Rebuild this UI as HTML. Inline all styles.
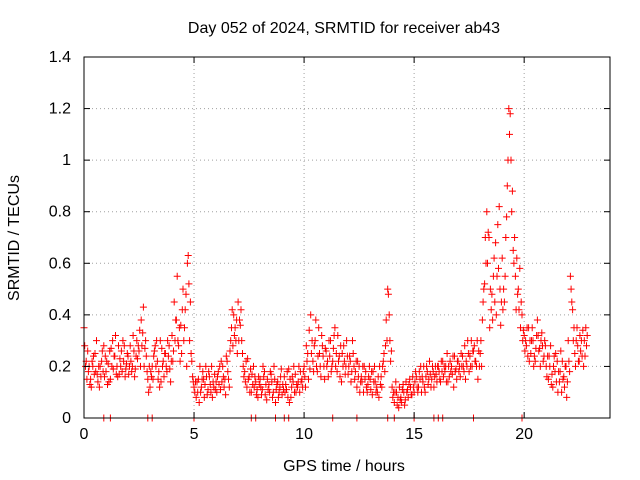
<!DOCTYPE html>
<html><head><meta charset="utf-8"><style>
body{margin:0;background:#fff}
svg{display:block;font-family:"Liberation Sans",sans-serif;font-size:16px}
</style></head><body>
<svg id="chart" width="640" height="480">
<rect width="640" height="480" fill="#fff"/>
<g id="grid"></g>
<g id="marks"></g>
<rect x="84" y="57" width="526" height="361" fill="none" stroke="#000"/>
<g id="axes"></g>
<text x="344" y="33" text-anchor="middle">Day 052 of 2024, SRMTID for receiver ab43</text>
<text x="344" y="471" text-anchor="middle">GPS time / hours</text>
<text x="19" y="238" text-anchor="middle" transform="rotate(-90 19 238)">SRMTID / TECUs</text>
</svg>
<script>
const xTicks=[0,5,10,15,20];
const yTicks=[0,0.2,0.4,0.6,0.8,1,1.2,1.4];
const yTickLabels=["0","0.2","0.4","0.6","0.8","1","1.2","1.4"];
const seriesA=[0.35,0.22,0.18,0.15,0.2,0.25,0.17,0.12,0.22,0.28,0.18,0.21,0.15,0.3,0.24,0.2,0.17,0.26,0.22,0.19,0.24,0.28,0.2,0.16,0.3,0.26,0.38,0.43,0.3,0.15,0.12,0.2,0.26,0.3,0.18,0.14,0.22,0.25,0.3,0.19,0.32,0.45,0.38,0.28,0.36,0.5,0.42,0.6,0.3,0.22,0.12,0.08,0.15,0.1,0.18,0.13,0.09,0.16,0.2,0.12,0.14,0.18,0.11,0.2,0.15,0.22,0.12,0.35,0.4,0.3,0.45,0.36,0.25,0.18,0.12,0.16,0.1,0.2,0.14,0.08,0.15,0.11,0.18,0.07,0.13,0.17,0.1,0.06,0.14,0.12,0.09,0.16,0.11,0.19,0.08,0.14,0.17,0.12,0.1,0.15,0.2,0.28,0.15,0.4,0.22,0.3,0.18,0.25,0.32,0.2,0.26,0.16,0.3,0.22,0.35,0.18,0.24,0.14,0.28,0.2,0.17,0.22,0.3,0.15,0.12,0.2,0.16,0.1,0.18,0.13,0.15,0.09,0.2,0.12,0.08,0.16,0.22,0.28,0.5,0.3,0.12,0.06,0.1,0.04,0.08,0.13,0.07,0.11,0.15,0.09,0.1,0.16,0.12,0.2,0.14,0.1,0.18,0.22,0.15,0.12,0.17,0.2,0.14,0.22,0.18,0.25,0.16,0.2,0.12,0.19,0.22,0.16,0.24,0.28,0.2,0.18,0.3,0.26,0.22,0.15,0.25,0.38,0.52,0.8,0.7,0.42,0.55,0.68,0.75,0.5,0.62,0.45,0.78,1.2,1.0,0.65,0.55,0.48,0.58,0.4,0.32,0.28,0.35,0.25,0.3,0.22,0.38,0.27,0.33,0.24,0.2,0.15,0.28,0.12,0.18,0.22,0.14,0.1,0.16,0.2,0.3,0.55,0.42,0.25,0.35,0.22,0.3,0.2,0.35];
const seriesB=[0.28,0.15,0.2,0.12,0.24,0.18,0.14,0.2,0.26,0.16,0.22,0.14,0.27,0.19,0.32,0.16,0.23,0.18,0.28,0.21,0.17,0.22,0.32,0.19,0.23,0.34,0.28,0.2,0.24,0.1,0.18,0.15,0.28,0.22,0.12,0.27,0.16,0.2,0.24,0.14,0.22,0.3,0.55,0.35,0.25,0.3,0.48,0.63,0.45,0.16,0.1,0.14,0.06,0.12,0.15,0.2,0.11,0.13,0.08,0.17,0.1,0.13,0.22,0.16,0.09,0.18,0.26,0.42,0.32,0.38,0.3,0.42,0.2,0.14,0.23,0.1,0.17,0.12,0.09,0.16,0.12,0.2,0.09,0.15,0.1,0.14,0.2,0.11,0.08,0.16,0.13,0.1,0.18,0.06,0.12,0.2,0.1,0.14,0.18,0.12,0.16,0.22,0.34,0.25,0.18,0.38,0.24,0.2,0.28,0.15,0.2,0.3,0.18,0.27,0.2,0.32,0.16,0.25,0.22,0.3,0.2,0.14,0.25,0.18,0.22,0.1,0.14,0.2,0.12,0.16,0.11,0.18,0.14,0.1,0.2,0.12,0.25,0.38,0.48,0.22,0.08,0.1,0.05,0.12,0.06,0.1,0.14,0.08,0.12,0.16,0.14,0.12,0.18,0.1,0.2,0.16,0.13,0.17,0.2,0.16,0.14,0.18,0.22,0.16,0.2,0.14,0.22,0.17,0.24,0.15,0.18,0.25,0.2,0.15,0.3,0.24,0.2,0.28,0.2,0.26,0.3,0.45,0.7,0.6,0.35,0.48,0.62,0.4,0.58,0.36,0.42,0.55,0.9,1.1,0.8,0.6,0.42,0.5,0.35,0.3,0.26,0.35,0.22,0.3,0.2,0.27,0.32,0.2,0.28,0.3,0.16,0.24,0.13,0.2,0.25,0.1,0.18,0.22,0.12,0.08,0.22,0.5,0.3,0.2,0.28,0.32,0.24,0.3,0.28];
const seriesC=[0.2,0.26,0.13,0.22,0.17,0.3,0.2,0.16,0.18,0.24,0.13,0.26,0.2,0.24,0.17,0.28,0.2,0.3,0.16,0.25,0.2,0.18,0.26,0.24,0.28,0.2,0.33,0.27,0.18,0.2,0.16,0.24,0.2,0.15,0.3,0.2,0.25,0.18,0.28,0.22,0.26,0.38,0.3,0.22,0.42,0.35,0.2,0.52,0.25,0.14,0.14,0.1,0.2,0.15,0.08,0.16,0.18,0.1,0.14,0.11,0.16,0.2,0.14,0.12,0.24,0.15,0.3,0.28,0.35,0.25,0.38,0.3,0.16,0.22,0.15,0.19,0.13,0.16,0.11,0.13,0.09,0.16,0.13,0.11,0.18,0.08,0.15,0.13,0.1,0.19,0.11,0.13,0.08,0.15,0.16,0.1,0.13,0.2,0.14,0.18,0.12,0.25,0.19,0.3,0.28,0.2,0.35,0.16,0.24,0.27,0.22,0.24,0.2,0.32,0.25,0.22,0.28,0.2,0.17,0.24,0.24,0.18,0.2,0.22,0.16,0.14,0.2,0.15,0.1,0.2,0.18,0.14,0.1,0.16,0.13,0.2,0.18,0.3,0.4,0.26,0.1,0.14,0.08,0.07,0.11,0.05,0.1,0.13,0.09,0.12,0.18,0.1,0.15,0.16,0.12,0.2,0.15,0.12,0.18,0.2,0.2,0.15,0.18,0.2,0.14,0.2,0.18,0.24,0.18,0.22,0.2,0.2,0.18,0.22,0.25,0.2,0.26,0.22,0.3,0.2,0.2,0.5,0.6,0.72,0.5,0.38,0.45,0.55,0.82,0.45,0.5,0.7,1.0,1.18,0.88,0.7,0.62,0.42,0.45,0.34,0.3,0.24,0.3,0.35,0.24,0.32,0.26,0.3,0.22,0.28,0.24,0.2,0.17,0.24,0.14,0.18,0.26,0.15,0.2,0.14,0.18,0.45,0.35,0.3,0.22,0.26,0.34,0.24,0.32];
const zeroTimes=[0.9,1.2,2.9,3.1,5.0,7.6,7.8,8.7,9.1,9.3,11.3,12.4,13.8,14.1,15.0,15.9,16.1,16.3,17.7,19.9];
const step=0.1;

const X0=84,X1=610,Y0=418,Y1=57,XMAX=23.9,YMAX=1.4;
function xs(t){return X0+(X1-X0)*t/XMAX;}
function ys(v){return Y0-(Y0-Y1)*v/YMAX;}
const NS="http://www.w3.org/2000/svg";
const grid=document.getElementById('grid'),axes=document.getElementById('axes'),marks=document.getElementById('marks');
function mk(tag,attrs,parent){const e=document.createElementNS(NS,tag);for(const k in attrs)e.setAttribute(k,attrs[k]);parent.appendChild(e);return e;}
xTicks.forEach(t=>{const x=xs(t);
 const g=mk('line',{x1:x,x2:x,y1:Y0,y2:Y1,stroke:'#a0a0a0','stroke-dasharray':'1,3'},grid);
 
 
 mk('line',{x1:x,x2:x,y1:Y0,y2:Y0-6,stroke:'#000'},axes);
 mk('line',{x1:x,x2:x,y1:Y1,y2:Y1+6,stroke:'#000'},axes);
 const l=mk('text',{x:x,y:Y0+21,'text-anchor':'middle'},axes);l.textContent=t;
 
 
});
yTicks.forEach((v,i)=>{const y=ys(v);
 const g=mk('line',{x1:X0,x2:X1,y1:y,y2:y,stroke:'#a0a0a0','stroke-dasharray':'1,3'},grid);
 
 
 mk('line',{x1:X0,x2:X0+6,y1:y,y2:y,stroke:'#000'},axes);
 mk('line',{x1:X1,x2:X1-6,y1:y,y2:y,stroke:'#000'},axes);
 const l=mk('text',{x:X0-13,y:y+5,'text-anchor':'end'},axes);l.textContent=yTickLabels[i];
 
 
});
let d='';
function plus(t,v){const x=xs(t),y=ys(v);d+=`M${(x-3.5).toFixed(1)} ${y.toFixed(1)}h7M${x.toFixed(1)} ${(y-3.5).toFixed(1)}v7`;}
seriesA.forEach((v,i)=>plus(i*step,v));
seriesB.forEach((v,i)=>plus(i*step+0.033,v));
seriesC.forEach((v,i)=>plus(i*step+0.066,v));
zeroTimes.forEach(t=>plus(t,0));
const p=mk('path',{d:d,stroke:'#ff0000','stroke-width':1,fill:'none'},marks);


</script>
</body></html>
